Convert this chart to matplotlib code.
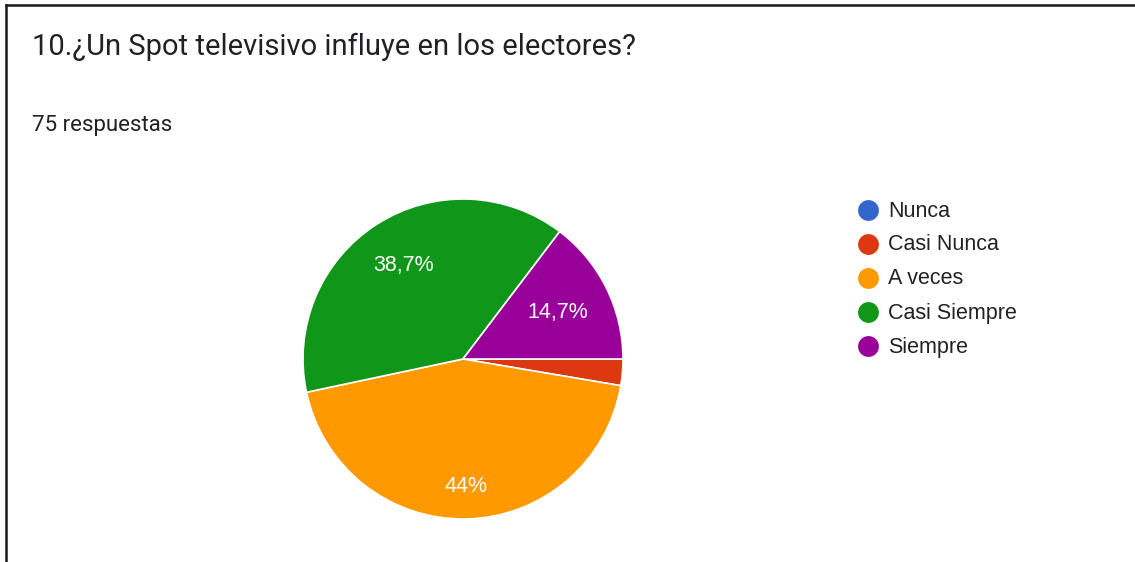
import numpy as np
import matplotlib
matplotlib.use('Agg')
import matplotlib.pyplot as plt
from matplotlib.lines import Line2D

plt.rcParams['font.family'] = ['Roboto', 'DejaVu Sans']
ARIAL = ['Arial', 'Liberation Sans', 'DejaVu Sans']

# datos de la encuesta
categorias = ['Nunca', 'Casi Nunca', 'A veces', 'Casi Siempre', 'Siempre']
respuestas = [0, 2, 33, 29, 11]
colores = ['#3366cc', '#dc3912', '#ff9900', '#109618', '#990099']
etiquetas = ['', '', '44%', '38,7%', '14,7%']
dist_etiqueta = [0, 0, 0.80, 0.69, 0.66]

W, H = 1135, 562
fig = plt.figure(figsize=(W / 100, H / 100), dpi=100)

def fx(px):
    return px / W

def fy(py):
    return 1 - py / H

# marco (arriba e izquierda)
fig.add_artist(Line2D([fx(6), 1], [fy(5), fy(5)], color='#1a1a1a', lw=1.8, transform=fig.transFigure))
fig.add_artist(Line2D([fx(6), fx(6)], [0, fy(5)], color='#1a1a1a', lw=1.8, transform=fig.transFigure))

fig.text(fx(32), fy(47), '10.¿Un Spot televisivo influye en los electores?', fontsize=21,
         color='#202124', va='center', ha='left')
fig.text(fx(32), fy(125), '75 respuestas', fontsize=16, color='#202124', va='center', ha='left')

# pastel (en sentido horario desde las 3 en punto)
cx, cy, r = 463, 359, 160
ax = fig.add_axes([fx(cx - r), fy(cy + r), (2 * r) / W, (2 * r) / H])
idx = [i for i, v in enumerate(respuestas) if v > 0]
wedges, _ = ax.pie([respuestas[i] for i in idx], colors=[colores[i] for i in idx],
                   startangle=0, counterclock=False, radius=1,
                   wedgeprops=dict(edgecolor='white', linewidth=1.2))
for w, i in zip(wedges, idx):
    if not etiquetas[i]:
        continue
    ang = np.deg2rad((w.theta1 + w.theta2) / 2)
    d = dist_etiqueta[i]
    ax.text(d * np.cos(ang), d * np.sin(ang), etiquetas[i], color='white',
            fontsize=15.5, ha='center', va='center', family=ARIAL)
ax.set_xlim(-1, 1)
ax.set_ylim(-1, 1)
ax.axis('off')

# leyenda
y0 = 210
for k, (cat, col) in enumerate(zip(categorias, colores)):
    y = y0 + k * 34
    fig.add_artist(Line2D([fx(868)], [fy(y)], marker='o', markersize=15, color=col,
                          markeredgewidth=0, transform=fig.transFigure))
    fig.text(fx(888), fy(y + 1), cat, fontsize=15.5, color='#222222', va='center', ha='left',
             family=ARIAL)

fig.savefig('out.png', dpi=100)
